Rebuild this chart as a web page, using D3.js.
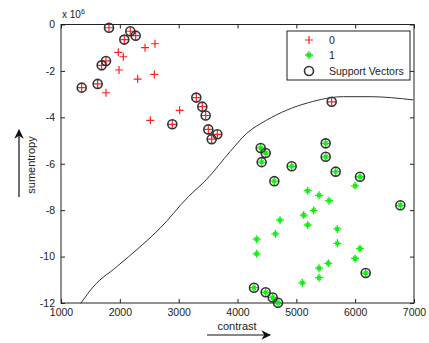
<!DOCTYPE html>
<html>
<head>
<meta charset="utf-8">
<script src="https://cdn.jsdelivr.net/npm/d3@7"></script>
<style>
  body { margin: 0; background: #fff; }
  svg text { font-family: "Liberation Sans", Arial, sans-serif; }
</style>
</head>
<body>
<svg id="chart" width="429" height="343"></svg>
<script>
// class 0 (red +), values: contrast, sumentropy (x1e6)
const class0X = [1816, 1352, 1623, 1691, 1765, 2076, 2178, 2269, 2892, 3300, 3402, 3459, 3504, 3561, 3657, 5601,
                 1974, 2059, 1986, 1765, 2428, 2598, 2303, 2586, 3017, 2518];
const class0Y = [-0.14, -2.72, -2.56, -1.76, -1.57, -0.65, -0.29, -0.48, -4.30, -3.15, -3.54, -3.92, -4.52, -4.94, -4.73, -3.33,
                 -1.20, -1.39, -1.96, -2.94, -1.00, -0.83, -2.35, -2.15, -3.70, -4.13];
// first 16 of class 0 are support vectors
const class0SV = 16;

// class 1 (green *)
const class1X = [4394, 4479, 4411, 4921, 5499, 5499, 5669, 4626, 6082, 6768, 6179, 4281, 4479, 4598, 4689,
                 5193, 5386, 5555, 5295, 5125, 5193, 4723, 4643, 4326, 4326, 5697, 5697, 5998, 6082, 5998, 5386, 5544, 5386, 5102];
const class1Y = [-5.32, -5.54, -5.93, -6.11, -5.12, -5.70, -6.34, -6.75, -6.56, -7.79, -10.71, -11.34, -11.54, -11.76, -11.99,
                 -7.16, -7.36, -7.59, -8.01, -8.21, -8.64, -8.43, -9.02, -9.25, -9.88, -8.81, -9.43, -6.95, -9.65, -10.08, -10.50, -10.29, -10.91, -11.13];
const class1SV = 15;

// decision boundary
const boundX = [1335, 1549, 1946, 2343, 2683, 3164, 3476, 3873, 4156, 4496, 4836, 5204, 5799, 6252, 6989];
const boundY = [-12.02, -11.30, -10.44, -9.58, -8.78, -7.42, -6.67, -5.48, -4.69, -4.12, -3.69, -3.37, -3.11, -3.11, -3.25];

const xTicks = [1000, 2000, 3000, 4000, 5000, 6000, 7000];
const yTicks = [0, -2, -4, -6, -8, -10, -12];
const legendLabels = ['0', '1', 'Support Vectors'];

const svg = d3.select('#chart');
const pLeft = 61, pRight = 414, pTop = 24.5, pBottom = 303;

const x = d3.scaleLinear().domain([1000, 7000]).range([pLeft, pRight]);
const y = d3.scaleLinear().domain([-12, 0]).range([pBottom, pTop]);

// box
svg.append('rect')
   .attr('x', pLeft).attr('y', pTop)
   .attr('width', pRight - pLeft).attr('height', pBottom - pTop)
   .attr('fill', '#fff').attr('stroke', '#222').attr('stroke-width', 1);

// axes (inward ticks on all sides)
const styleAxis = g => {
  g.select('.domain').remove();
  g.selectAll('.tick line').attr('stroke', '#222');
  g.selectAll('.tick text').attr('fill', '#222').attr('font-size', 10.5);
};
svg.append('g').attr('transform', `translate(0,${pBottom})`)
   .call(d3.axisBottom(x).tickValues(xTicks).tickSize(-4).tickPadding(6).tickFormat(d3.format('d')))
   .call(styleAxis);
svg.append('g').attr('transform', `translate(0,${pTop})`)
   .call(d3.axisTop(x).tickValues(xTicks).tickSize(-4).tickFormat(''))
   .call(styleAxis);
svg.append('g').attr('transform', `translate(${pLeft},0)`)
   .call(d3.axisLeft(y).tickValues(yTicks).tickSize(-4).tickPadding(6).tickFormat(d => d))
   .call(styleAxis);
svg.append('g').attr('transform', `translate(${pRight},0)`)
   .call(d3.axisRight(y).tickValues(yTicks).tickSize(-4).tickFormat(''))
   .call(styleAxis);

// exponent label
const expo = svg.append('text').attr('x', pLeft + 1).attr('y', 18).attr('font-size', 10).attr('fill', '#222');
expo.append('tspan').text('x 10');
expo.append('tspan').attr('dy', -4).attr('font-size', 7).text('6');

// decision boundary
const bound = boundX.map((v, i) => [v, boundY[i]]);
svg.append('path')
   .datum(bound)
   .attr('d', d3.line().x(d => x(d[0])).y(d => y(d[1])).curve(d3.curveMonotoneX))
   .attr('fill', 'none').attr('stroke', '#333').attr('stroke-width', 1);

// markers
const plus = (g, cx, cy, col) => {
  g.append('path')
   .attr('d', `M${cx - 4},${cy}H${cx + 4}M${cx},${cy - 4}V${cy + 4}`)
   .attr('stroke', col).attr('stroke-width', 1.2).attr('fill', 'none');
};
const star = (g, cx, cy, col) => {
  g.append('path')
   .attr('d', `M${cx - 4},${cy}H${cx + 4}M${cx},${cy - 4}V${cy + 4}M${cx - 2},${cy - 2}L${cx + 2},${cy + 2}M${cx - 2},${cy + 2}L${cx + 2},${cy - 2}`)
   .attr('stroke', col).attr('stroke-width', 1.3).attr('fill', 'none');
};
const ring = (g, cx, cy) => {
  g.append('circle').attr('cx', cx).attr('cy', cy).attr('r', 4.5)
   .attr('fill', 'none').attr('stroke', '#333').attr('stroke-width', 1.6);
};

const pts = svg.append('g');
class0X.forEach((v, i) => {
  plus(pts, x(v), y(class0Y[i]), '#ff2020');
});
class1X.forEach((v, i) => {
  star(pts, x(v), y(class1Y[i]), '#11ee11');
});
class0X.slice(0, class0SV).forEach((v, i) => ring(pts, x(v), y(class0Y[i])));
class1X.slice(0, class1SV).forEach((v, i) => ring(pts, x(v), y(class1Y[i])));

// legend
const lg = svg.append('g');
lg.append('rect').attr('x', 287).attr('y', 31).attr('width', 123).attr('height', 49)
  .attr('fill', '#fff').attr('stroke', '#222').attr('stroke-width', 1);
const rows = [40, 55, 71];
plus(lg, 309, rows[0], '#ff2020');
star(lg, 309, rows[1], '#11ee11');
ring(lg, 309, rows[2]);
legendLabels.forEach((t, i) => {
  lg.append('text').attr('x', 329).attr('y', rows[i]).attr('dy', '0.35em')
    .attr('font-size', 10.5).attr('fill', '#222').text(t);
});

// axis labels with arrows
svg.append('defs').append('marker')
   .attr('id', 'arr').attr('viewBox', '0 0 10 10').attr('refX', 9).attr('refY', 5)
   .attr('markerWidth', 8).attr('markerHeight', 8).attr('orient', 'auto')
   .append('path').attr('d', 'M0,0L10,5L0,10L3,5Z').attr('fill', '#111');

svg.append('text').attr('x', 237).attr('y', 330).attr('text-anchor', 'middle')
   .attr('font-size', 11).attr('fill', '#222').text('contrast');
svg.append('line').attr('x1', 207).attr('y1', 335).attr('x2', 270).attr('y2', 335)
   .attr('stroke', '#111').attr('stroke-width', 1.2).attr('marker-end', 'url(#arr)');

svg.append('text').attr('transform', 'translate(35,165) rotate(-90)').attr('text-anchor', 'middle')
   .attr('font-size', 11).attr('fill', '#222').text('sumentropy');
svg.append('line').attr('x1', 19).attr('y1', 197).attr('x2', 19).attr('y2', 130)
   .attr('stroke', '#111').attr('stroke-width', 1.2).attr('marker-end', 'url(#arr)');
</script>
</body>
</html>
